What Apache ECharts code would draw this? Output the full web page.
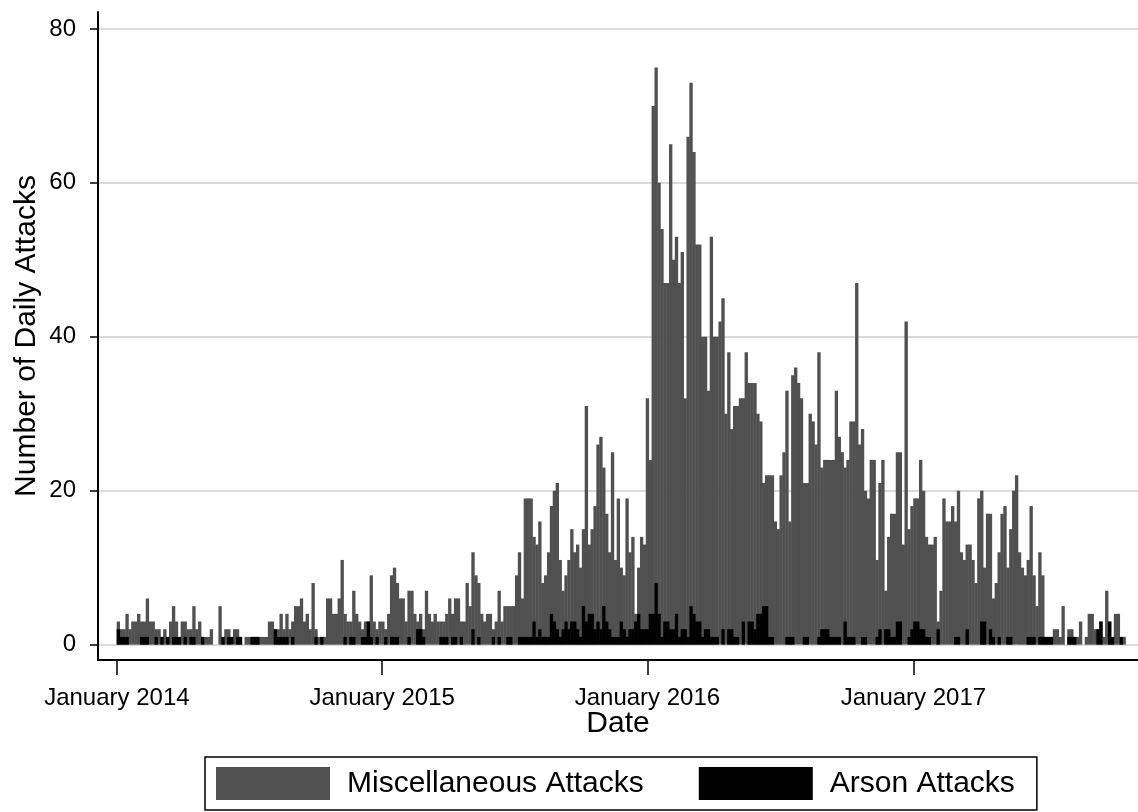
<!DOCTYPE html>
<html>
<head>
<meta charset="utf-8">
<title>Daily attacks</title>
<script src="https://cdn.jsdelivr.net/npm/echarts@6/dist/echarts.min.js"></script>
<style>
  html, body { margin: 0; padding: 0; background: #fff; }
  #chart { width: 1138px; height: 812px; }
</style>
</head>
<body>
<div id="chart"></div>
<script>
// bins of 4 days, first bin starts 1 January 2014
var binStart = [2014, 0, 1];
var binDays = 4;

// peak daily count in each bin
var miscValues = [
  3, 2, 2, 4, 2, 3, 3, 4, 3, 3,
  6, 3, 3, 2, 2, 1, 2, 1, 3, 5,
  3, 1, 3, 3, 2, 2, 5, 2, 3, 1,
  1, 1, 2, 0, 0, 5, 1, 2, 2, 0,
  2, 2, 1, 0, 1, 1, 1, 1, 1, 1,
  1, 1, 3, 3, 2, 2, 4, 2, 4, 2,
  3, 5, 5, 6, 3, 4, 2, 8, 2, 1,
  1, 1, 6, 6, 4, 4, 6, 11, 4, 3,
  3, 7, 4, 3, 2, 3, 3, 9, 3, 2,
  3, 3, 2, 4, 9, 10, 8, 6, 6, 3,
  7, 7, 4, 3, 4, 2, 7, 4, 3, 4,
  3, 3, 3, 4, 6, 4, 6, 6, 3, 3,
  8, 5, 12, 9, 8, 4, 3, 4, 4, 2,
  3, 7, 3, 5, 5, 5, 5, 9, 12, 6,
  19, 19, 19, 14, 13, 16, 8, 9, 12, 18,
  20, 21, 11, 7, 9, 11, 15, 12, 13, 10,
  15, 31, 13, 15, 18, 26, 27, 23, 17, 12,
  25, 11, 19, 10, 9, 19, 12, 14, 4, 10,
  14, 13, 32, 24, 70, 75, 60, 54, 47, 47,
  65, 50, 53, 47, 51, 32, 66, 73, 64, 52,
  52, 40, 40, 33, 53, 40, 40, 42, 45, 30,
  38, 28, 31, 31, 32, 32, 38, 34, 34, 34,
  30, 29, 21, 22, 22, 22, 16, 15, 22, 25,
  33, 16, 35, 36, 34, 32, 21, 21, 30, 29,
  26, 38, 23, 24, 24, 24, 24, 33, 27, 25,
  23, 24, 29, 29, 47, 26, 28, 20, 19, 24,
  24, 11, 21, 24, 7, 14, 17, 17, 25, 25,
  13, 42, 15, 18, 19, 19, 24, 20, 14, 13,
  13, 14, 3, 7, 19, 16, 16, 18, 16, 20,
  12, 11, 13, 13, 11, 8, 19, 20, 10, 17,
  17, 6, 8, 12, 17, 18, 10, 15, 20, 22,
  12, 10, 9, 11, 18, 9, 5, 12, 9, 1,
  1, 1, 2, 2, 1, 5, 0, 2, 2, 1,
  1, 3, 0, 1, 4, 4, 2, 2, 3, 1,
  7, 3, 1, 4, 4, 1, 1
];

var arsonValues = [
  2, 1, 1, 1, 0, 0, 0, 0, 1, 1,
  1, 0, 0, 1, 0, 1, 0, 1, 0, 1,
  1, 1, 0, 1, 0, 1, 1, 0, 0, 1,
  0, 0, 0, 0, 0, 0, 1, 0, 1, 1,
  0, 1, 1, 0, 0, 0, 1, 1, 1, 0,
  0, 0, 0, 0, 2, 1, 1, 1, 1, 0,
  1, 0, 0, 0, 0, 0, 0, 0, 1, 0,
  1, 0, 0, 0, 0, 0, 0, 0, 1, 0,
  1, 1, 0, 0, 1, 1, 3, 1, 0, 1,
  0, 0, 1, 0, 1, 1, 1, 0, 0, 0,
  1, 0, 0, 2, 2, 1, 0, 0, 0, 0,
  0, 1, 1, 1, 0, 1, 1, 0, 1, 0,
  0, 0, 2, 0, 1, 0, 0, 0, 0, 1,
  0, 1, 0, 0, 1, 1, 0, 0, 1, 1,
  1, 1, 1, 3, 1, 2, 1, 1, 1, 4,
  3, 2, 1, 2, 3, 2, 3, 3, 2, 1,
  5, 3, 4, 4, 2, 3, 2, 5, 3, 2,
  1, 1, 1, 3, 2, 1, 2, 2, 3, 4,
  2, 2, 2, 4, 4, 8, 4, 1, 3, 3,
  2, 2, 4, 1, 2, 2, 1, 5, 4, 3,
  3, 1, 2, 2, 1, 1, 1, 0, 2, 0,
  2, 2, 1, 1, 0, 3, 0, 3, 3, 2,
  4, 4, 5, 5, 1, 1, 0, 0, 0, 0,
  1, 1, 1, 0, 0, 0, 1, 1, 0, 0,
  0, 1, 2, 2, 2, 1, 1, 1, 1, 0,
  3, 1, 1, 1, 0, 0, 1, 1, 0, 0,
  0, 1, 2, 0, 2, 2, 1, 1, 3, 3,
  0, 0, 1, 2, 3, 3, 2, 2, 1, 1,
  0, 0, 2, 0, 0, 0, 0, 0, 1, 1,
  0, 0, 2, 0, 0, 0, 0, 3, 3, 0,
  2, 1, 0, 1, 0, 0, 1, 1, 0, 0,
  0, 0, 0, 1, 1, 1, 0, 1, 1, 1,
  1, 1, 0, 0, 0, 0, 0, 1, 1, 1,
  0, 0, 0, 0, 0, 0, 0, 2, 3, 0,
  0, 3, 1, 0, 0, 1, 0
];

var yTicks = [0, 20, 40, 60, 80];
var xTickYears = [2014, 2015, 2016, 2017];
var seriesNames = ['Miscellaneous Attacks', 'Arson Attacks'];

var fontFamily = '"Liberation Sans", Arial, sans-serif';

function binDate(i) {
  // middle of the bin so the bar covers its 4 days
  return new Date(binStart[0], binStart[1], binStart[2] + i * binDays + binDays / 2).getTime();
}

function toPairs(values) {
  return values.map(function (v, i) {
    return [binDate(i), v];
  });
}

var xTickValues = xTickYears.map(function (y) {
  return new Date(y, 0, 1).getTime();
});

var chart = echarts.init(document.getElementById('chart'));

chart.setOption({
  animation: false,
  backgroundColor: '#fff',
  grid: {
    left: 98,
    right: 0,
    top: 12,
    bottom: 152,
  },
  legend: {
    data: seriesNames,
    left: 205,
    top: 757,
    orient: 'horizontal',
    icon: 'rect',
    itemWidth: 114,
    itemHeight: 33,
    itemGap: 55,
    padding: [10, 22, 10, 11],
    borderColor: '#000',
    borderWidth: 1.5,
    backgroundColor: '#fff',
    textStyle: {
      fontFamily: fontFamily,
      fontSize: 30,
      color: '#000',
      padding: [0, 0, 0, 12],
    },
  },
  xAxis: {
    // dates as millisecond timestamps on a plain value scale
    type: 'value',
    min: new Date(2013, 11, 6).getTime(),
    max: new Date(2017, 10, 6).getTime(),
    name: 'Date',
    nameLocation: 'middle',
    nameGap: 49,
    nameMoveOverlap: false,
    nameTextStyle: {
      fontFamily: fontFamily,
      fontSize: 30,
      color: '#000',
    },
    axisLine: {
      onZero: false,
      lineStyle: { color: '#000', width: 2 },
    },
    axisTick: {
      show: true,
      length: 15,
      lineStyle: { color: '#000', width: 1.5 },
      customValues: xTickValues,
    },
    axisLabel: {
      fontFamily: fontFamily,
      fontSize: 24,
      color: '#000',
      margin: 26,
      customValues: xTickValues,
      formatter: function (val) {
        return 'January ' + new Date(val).getFullYear();
      },
    },
    splitLine: { show: false },
  },
  yAxis: {
    type: 'value',
    min: -2,
    max: 82.2,
    name: 'Number of Daily Attacks',
    nameLocation: 'middle',
    nameGap: 56,
    nameMoveOverlap: false,
    nameTextStyle: {
      fontFamily: fontFamily,
      fontSize: 30,
      color: '#000',
    },
    axisLine: {
      show: true,
      onZero: false,
      lineStyle: { color: '#000', width: 2 },
    },
    axisTick: {
      show: true,
      length: 8,
      lineStyle: { color: '#000', width: 1.5 },
      customValues: yTicks,
    },
    axisLabel: {
      fontFamily: fontFamily,
      fontSize: 24,
      color: '#000',
      margin: 22,
      customValues: yTicks,
    },
    splitLine: { show: false },
  },
  series: [
    {
      // only carries the horizontal grid lines, kept behind the bars
      type: 'line',
      data: [],
      z: 0,
      silent: true,
      markLine: {
        z: 0,
        silent: true,
        symbol: 'none',
        label: { show: false },
        lineStyle: { color: '#dadada', width: 2, type: 'solid' },
        data: yTicks.map(function (v) { return { yAxis: v }; }),
      },
    },
    {
      name: seriesNames[0],
      type: 'bar',
      z: 2,
      barWidth: '115%',
      barGap: '-100%',
      itemStyle: { color: '#505050' },
      data: toPairs(miscValues),
    },
    {
      name: seriesNames[1],
      type: 'bar',
      z: 3,
      barWidth: '115%',
      barGap: '-100%',
      itemStyle: { color: '#000' },
      data: toPairs(arsonValues),
    },
  ],
});
</script>
</body>
</html>
